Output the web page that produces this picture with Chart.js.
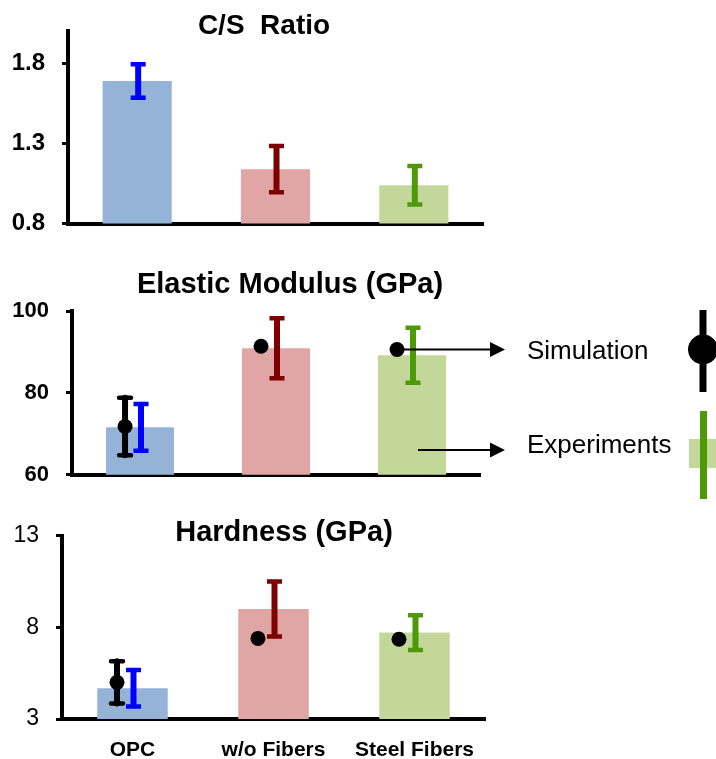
<!DOCTYPE html>
<html>
<head>
<meta charset="utf-8">
<script src="https://cdn.jsdelivr.net/npm/chart.js@4.4.1/dist/chart.umd.min.js"></script>
<style>
  html, body { margin: 0; padding: 0; background: #fff; }
  #wrap { position: relative; width: 716px; height: 759px; overflow: hidden; }
  .panel { position: absolute; left: 0; width: 716px; }
</style>
</head>
<body>
<div id="wrap">
  <div class="panel" style="top:0;height:255px"><canvas id="csChart"></canvas></div>
  <div class="panel" style="top:255px;height:250px"><canvas id="modChart"></canvas></div>
  <div class="panel" style="top:505px;height:254px"><canvas id="hardChart"></canvas></div>
</div>
<script>
// data
const categories = ["OPC", "w/o Fibers", "Steel Fibers"];

const csRatio    = [1.69, 1.14, 1.04];
const csRatioErr = [0.105, 0.145, 0.12];
const csTicks    = [0.8, 1.3, 1.8];

const modulusExp    = [71.6, 90.9, 89.2];
const modulusExpErr = [5.7, 7.3, 6.7];
const modulusSim    = [71.8, 91.4, 90.6];
const modulusSimErr = [7.0, null, null];
const modulusTicks  = [60, 80, 100];

const hardnessExp    = [4.68, 9.0, 7.72];
const hardnessExpErr = [1.0, 1.5, 0.95];
const hardnessSim    = [5.0, 7.4, 7.35];
const hardnessSimErr = [1.15, null, null];
const hardnessTicks  = [3, 8, 13];

// styles
const barFill  = ["#95b3d7", "#dfa6a5", "#c4d79b"];
const errColor = ["#0000ff", "#7f0000", "#4e9a06"];
const SIM_SHIFT = 0.11;
const FONT = "'Liberation Sans', Arial, sans-serif";

Chart.defaults.animation = false;
Chart.defaults.events = [];
Chart.defaults.font.family = FONT;
Chart.defaults.color = "#000";

const panelTitle = {
  id: "panelTitle",
  afterDraw(chart, args, o) {
    const ctx = chart.ctx;
    ctx.save();
    ctx.font = o.font;
    ctx.fillStyle = "#000";
    ctx.textAlign = "center";
    ctx.textBaseline = "middle";
    ctx.fillText(o.text, o.x, o.y);
    ctx.restore();
  }
};

const errorBars = {
  id: "errorBars",
  afterDatasetsDraw(chart, args, o) {
    const ctx = chart.ctx, xs = chart.scales.x, ys = chart.scales.y;
    ctx.save();
    o.values.forEach((v, i) => {
      const x = xs.getPixelForValue(i) + 1;
      const top = ys.getPixelForValue(v + o.errs[i]);
      const bot = ys.getPixelForValue(v - o.errs[i]);
      ctx.strokeStyle = errColor[i];
      ctx.lineCap = "butt";
      ctx.lineWidth = 6;
      ctx.beginPath(); ctx.moveTo(x, top); ctx.lineTo(x, bot); ctx.stroke();
      ctx.lineWidth = 4.5;
      ctx.beginPath();
      ctx.moveTo(x - 7.5, top); ctx.lineTo(x + 7.5, top);
      ctx.moveTo(x - 7.5, bot); ctx.lineTo(x + 7.5, bot);
      ctx.stroke();
    });
    if (o.sim) {
      o.sim.forEach((v, i) => {
        if (o.simErrs[i] == null) return;
        const x = xs.getPixelForValue(i - SIM_SHIFT);
        const top = ys.getPixelForValue(v + o.simErrs[i]);
        const bot = ys.getPixelForValue(v - o.simErrs[i]);
        ctx.strokeStyle = "#000";
        ctx.lineCap = "round";
        ctx.lineWidth = 6;
        ctx.beginPath(); ctx.moveTo(x, top); ctx.lineTo(x, bot); ctx.stroke();
        ctx.lineWidth = 4.5;
        ctx.beginPath();
        ctx.moveTo(x - 6, top); ctx.lineTo(x + 6, top);
        ctx.moveTo(x - 6, bot); ctx.lineTo(x + 6, bot);
        ctx.stroke();
      });
    }
    ctx.restore();
  }
};

function arrow(ctx, x1, y, x2) {
  ctx.lineWidth = 2;
  ctx.beginPath(); ctx.moveTo(x1, y); ctx.lineTo(x2 - 12, y); ctx.stroke();
  ctx.beginPath();
  ctx.moveTo(x2, y); ctx.lineTo(x2 - 15, y - 7.5); ctx.lineTo(x2 - 15, y + 7.5);
  ctx.closePath(); ctx.fill();
}

const simLegend = {
  id: "simLegend",
  afterDraw(chart) {
    const ctx = chart.ctx, xs = chart.scales.x, ys = chart.scales.y;
    ctx.save();
    ctx.strokeStyle = "#000"; ctx.fillStyle = "#000";
    // arrow from the steel-fiber simulation point
    const sx = xs.getPixelForValue(2 - SIM_SHIFT), sy = ys.getPixelForValue(modulusSim[2]);
    arrow(ctx, sx, sy, 505);
    // arrow from inside the steel-fiber bar
    arrow(ctx, xs.getPixelForValue(2) + 6, 195, 505);

    ctx.font = "26px " + FONT;
    ctx.textAlign = "left"; ctx.textBaseline = "middle";
    ctx.fillText("Simulation", 527, sy + 2);
    ctx.fillText("Experiments", 527, 191);

    // simulation symbol
    ctx.lineWidth = 7;
    ctx.beginPath(); ctx.moveTo(703, 55); ctx.lineTo(703, 137); ctx.stroke();
    ctx.beginPath(); ctx.arc(703, sy, 15, 0, Math.PI * 2); ctx.fill();
    // experiment symbol
    ctx.fillStyle = barFill[2];
    ctx.fillRect(689, 184, 30, 29);
    ctx.strokeStyle = errColor[2];
    ctx.beginPath(); ctx.moveTo(703.5, 156); ctx.lineTo(703.5, 244); ctx.stroke();
    ctx.restore();
  }
};

function makeChart(id, c) {
  const datasets = [{
    type: "bar",
    data: c.values.map((v, i) => ({ x: i, y: v })),
    backgroundColor: barFill,
    borderWidth: 0,
    barPercentage: 0.5,
    categoryPercentage: 1,
    order: 2
  }];
  if (c.sim) {
    datasets.push({
      type: "line",
      data: c.sim.map((v, i) => ({ x: i - SIM_SHIFT, y: v })),
      showLine: false,
      pointRadius: c.dotR,
      pointBackgroundColor: "#000",
      pointBorderWidth: 0,
      order: 1
    });
  }
  return new Chart(document.getElementById(id), {
    data: { datasets },
    plugins: c.extra ? [panelTitle, errorBars, c.extra] : [panelTitle, errorBars],
    options: {
      responsive: true,
      maintainAspectRatio: false,
      layout: { padding: { left: 0, right: c.padRight, top: c.padTop, bottom: c.padBottom } },
      plugins: {
        legend: { display: false },
        tooltip: { enabled: false },
        panelTitle: { text: c.title, x: c.titleX, y: c.titleY, font: c.titleFont },
        errorBars: { values: c.values, errs: c.errs, sim: c.sim, simErrs: c.simErrs }
      },
      scales: {
        x: {
          type: "linear", min: -0.5, max: 2.5, offset: false,
          afterBuildTicks: s => { s.ticks = categories.map((_, i) => ({ value: i })); },
          afterFit: s => { s.height = c.xHeight; },
          ticks: {
            display: c.showLabels, padding: 19, maxRotation: 0, autoSkip: false,
            font: { size: 21, weight: "bold" }, color: "#000",
            callback: v => categories[v]
          },
          grid: { display: false, drawTicks: false },
          border: { display: true, width: 4, color: "#000" }
        },
        y: {
          min: c.min, max: c.max,
          afterBuildTicks: s => { s.ticks = c.ticks.map(v => ({ value: v })); },
          afterFit: s => { s.width = c.axisX; },
          ticks: { padding: 17, font: c.tickFont, color: "#000", callback: v => v },
          grid: { display: true, drawOnChartArea: false, drawTicks: true, tickLength: 6, lineWidth: 3, color: "#000" },
          border: { display: true, width: 4, color: "#000" }
        }
      }
    }
  });
}

makeChart("csChart", {
  values: csRatio, errs: csRatioErr, ticks: csTicks, min: 0.8, max: 2.0,
  axisX: 68, padRight: 233, padTop: 29, padBottom: 23, xHeight: 0, showLabels: false,
  tickFont: { size: 24, weight: "bold" },
  title: "C/S  Ratio", titleX: 264, titleY: 26, titleFont: "bold 28px " + FONT
});

makeChart("modChart", {
  values: modulusExp, errs: modulusExpErr, sim: modulusSim, simErrs: modulusSimErr, dotR: 7.5,
  ticks: modulusTicks, min: 60, max: 100,
  axisX: 72, padRight: 236, padTop: 56, padBottom: 18, xHeight: 0, showLabels: false,
  tickFont: { size: 22, weight: "bold" },
  title: "Elastic Modulus (GPa)", titleX: 290, titleY: 30, titleFont: "bold 29px " + FONT,
  extra: simLegend
});

makeChart("hardChart", {
  values: hardnessExp, errs: hardnessExpErr, sim: hardnessSim, simErrs: hardnessSimErr, dotR: 7.5,
  ticks: hardnessTicks, min: 3, max: 13,
  axisX: 62, padRight: 231, padTop: 28, padBottom: 0, xHeight: 40, showLabels: true,
  tickFont: { size: 23 },
  title: "Hardness (GPa)", titleX: 284, titleY: 28, titleFont: "bold 29px " + FONT
});
</script>
</body>
</html>
